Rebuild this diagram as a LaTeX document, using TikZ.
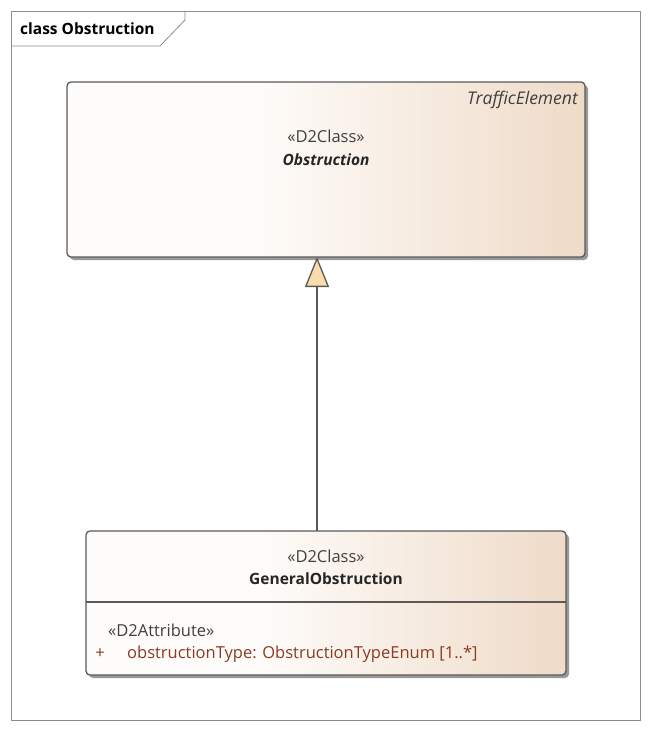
\documentclass[tikz,border=0pt]{standalone}
\usepackage{fontspec}
\setmainfont{Open Sans}
\usetikzlibrary{arrows.meta,calc}
\definecolor{txt}{HTML}{404040}
\definecolor{frame}{HTML}{8C8C8C}
\definecolor{edge}{HTML}{5A5A5A}
\definecolor{boxL}{HTML}{FEFCFA}
\definecolor{boxR}{HTML}{EFDBC8}
\definecolor{attr}{HTML}{8A3B22}
\definecolor{tipfill}{HTML}{FBDCAA}
\pgfdeclarehorizontalshading{classshade}{100bp}{color(0bp)=(boxL); color(25bp)=(boxL); color(43bp)=(boxL); color(75bp)=(boxR); color(100bp)=(boxR)}
\tikzset{
  classbox/.style={draw=edge, line width=1.3pt, rounded corners=4pt,
    shading=classshade, shading angle=0,
    inner sep=0pt, outer sep=0pt},
  shadowbox/.style={fill=black!40, rounded corners=4pt, draw=none},
  lbl/.style={text=txt, font=\fontsize{16.5}{19}\selectfont, inner sep=0pt},
  gen/.style={draw=edge, line width=1.3pt,
    -{Triangle[length=30pt,width=24pt,fill=tipfill]}},
}
\begin{document}
\begin{tikzpicture}[x=1pt,y=-1pt]
\useasboundingbox (0,0) rectangle (652,733);
% outer frame
\draw[frame, line width=0.8pt] (11,11) rectangle (640,720);
\draw[frame, line width=0.8pt] (11,46) -- (160,46) -- (185,20) -- (185,11);
\node[lbl, anchor=west, font=\fontsize{15.5}{18}\selectfont\bfseries, text=black] (title) at (20,29) {class Obstruction};
% shadows
\fill[shadowbox] (70,85) rectangle (588,260);
\fill[shadowbox] (89,534) rectangle (569,678);
% top class
\node[classbox, minimum width=518pt, minimum height=175pt] (top) at (326,169.5) {};
\node[lbl, anchor=east, font=\fontsize{17.5}{19}\selectfont\itshape] (topst) at (578,100) {TrafficElement};
\node[lbl] (topster) at (326,136) {«D2Class»};
\node[lbl, font=\fontsize{15.5}{18}\selectfont\bfseries\itshape, text=black!85] (topname) at (326,160) {Obstruction};
% bottom class
\node[classbox, minimum width=480pt, minimum height=144pt] (bot) at (326,603) {};
\draw[edge, line width=1.1pt] (bot.west |- 0,602) -- (bot.east |- 0,602);
\node[lbl] (botster) at (326,556) {«D2Class»};
\node[lbl, font=\fontsize{15.5}{18}\selectfont\bfseries, text=black!85] (botname) at (326,579) {GeneralObstruction};
\node[lbl, anchor=west] (attrst) at (108,630) {«D2Attribute»};
\node[lbl, anchor=center, text=attr] (plus) at (100,654) {+};
\node[lbl, anchor=west, text=attr] (attrtxt) at (127,654) {obstructionType: ObstructionTypeEnum [1..*]};
% generalization
\draw[gen] ($(bot.north)+(-9,0)$) -- ($(top.south)+(-9,0)$);
\end{tikzpicture}
\end{document}
